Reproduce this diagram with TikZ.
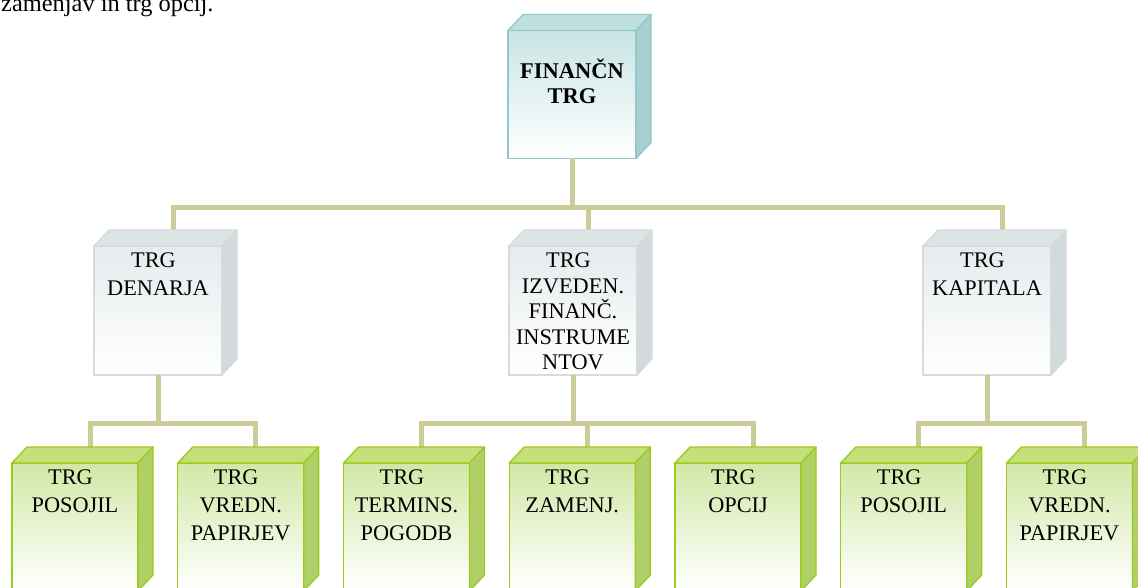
\documentclass[tikz,border=0pt]{standalone}
\usepackage{fontspec}
\setmainfont{Liberation Serif}
\usetikzlibrary{positioning}

\definecolor{vezbarva}{HTML}{CCCC99}
\definecolor{modrarob}{HTML}{8FC9C9}
\definecolor{modrasp}{HTML}{C9E4E4}
\definecolor{modravrh}{HTML}{C0DFDF}
\definecolor{modrastr}{HTML}{A8CECE}
\definecolor{sivarob}{HTML}{D3DCDE}
\definecolor{sivasp}{HTML}{E6EBED}
\definecolor{sivavrh}{HTML}{DDE4E6}
\definecolor{sivastr}{HTML}{D3DADC}
\definecolor{zelrob}{HTML}{9BCB1E}
\definecolor{zelsp}{HTML}{D2E8A6}
\definecolor{zelvrh}{HTML}{C5E07A}
\definecolor{zelstr}{HTML}{B0CF66}

\begin{document}
\begin{tikzpicture}[x=1pt,y=-1pt,
  vez/.style={draw=vezbarva,line width=5pt},
  kocka/.style={rectangle,line width=1.3pt,outer sep=0pt,inner sep=0pt,minimum width=128pt,minimum height=128pt,bottom color=white},
  modra/.style={kocka,draw=modrarob,top color=modrasp},
  siva/.style={kocka,draw=sivarob,top color=sivasp,minimum height=129pt},
  zel/.style={kocka,draw=zelrob,top color=zelsp,minimum width=126pt},
  napis/.style={align=center,inner sep=0pt,font=\fontsize{22.3}{28}\selectfont}]
\useasboundingbox (0,0) rectangle (1138,588);
\clip (0,0) rectangle (1138,588);

\node[anchor=base west,inner sep=0pt,font=\fontsize{24.4}{29}\selectfont] (uvod) at (1,12) {zamenjav in trg opcij.};

% sprednje ploskve
\node[modra] (fin) at (572,94.5) {};
\node[siva] (den) at (158,310.5) {};
\node[siva] (izv) at (573,310.5) {};
\node[siva] (kap) at (987,310.5) {};
\node[zel] (pos1) at (75,527) {};
\node[zel] (vre1) at (240.75,527) {};
\node[zel] (ter) at (406.5,527) {};
\node[zel] (zam) at (572.25,527) {};
\node[zel] (opc) at (738,527) {};
\node[zel] (pos2) at (903.75,527) {};
\node[zel] (vre2) at (1069.5,527) {};

% povezave
\coordinate (r1) at ([yshift=-49pt]fin.south);
\coordinate (r2) at ([yshift=-48pt]den.south);
\coordinate (r3) at ([yshift=-48pt]izv.south);
\coordinate (r4) at ([yshift=-48pt]kap.south);
\draw[vez] (fin.south) -- (r1);
\draw[vez] ([shift={(15,-16)}]den.north) |- (r1) -| ([shift={(15,-16)}]kap.north);
\draw[vez] ([shift={(15,-16)}]izv.north) |- (r1);
\draw[vez] (den.south) -- (r2);
\draw[vez] ([shift={(15,-16)}]pos1.north) |- (r2) -| ([shift={(15,-16)}]vre1.north);
\draw[vez] (izv.south) -- (r3);
\draw[vez] ([shift={(15,-16)}]ter.north) |- (r3) -| ([shift={(15,-16)}]opc.north);
\draw[vez] ([shift={(15,-16)}]zam.north) |- (r3);
\draw[vez] (kap.south) -- (r4);
\draw[vez] ([shift={(15,-16)}]pos2.north) |- (r4) -| ([shift={(15,-16)}]vre2.north);

% zgornje in stranske ploskve
\foreach \n/\barva in {fin/modra,den/siva,izv/siva,kap/siva,pos1/zel,vre1/zel,ter/zel,zam/zel,opc/zel,pos2/zel,vre2/zel}{
  \filldraw[draw=\barva rob,fill=\barva vrh,line width=1.3pt,line join=round] (\n.north west) -- ([shift={(15,-16)}]\n.north west) -- ([shift={(15,-16)}]\n.north east) -- (\n.north east) -- cycle;
  \filldraw[draw=\barva rob,fill=\barva str,line width=1.3pt,line join=round] (\n.north east) -- ([shift={(15,-16)}]\n.north east) -- ([shift={(15,-16)}]\n.south east) -- (\n.south east) -- cycle;
}

% napisi
\node[napis,font=\bfseries\fontsize{22.5}{25}\selectfont,below=28pt of fin.north] (finT) {FINANČN\\TRG};
\node[napis,below=7pt of den.north] (denT) {TRG\hspace*{9pt}\\DENARJA};
\node[napis,below=7pt of izv.north,font=\fontsize{22.3}{25.5}\selectfont] (izvT) {TRG\hspace*{9pt}\\IZVEDEN.\\FINANČ.\\INSTRUME\\NTOV};
\node[napis,below=7pt of kap.north] (kapT) {TRG\hspace*{9pt}\\KAPITALA};
\node[napis,below=7pt of pos1.north] (pos1T) {TRG\hspace*{9pt}\\POSOJIL};
\node[napis,below=7pt of vre1.north] (vre1T) {TRG\hspace*{9pt}\\VREDN.\\PAPIRJEV};
\node[napis,below=7pt of ter.north] (terT) {TRG\hspace*{9pt}\\TERMINS.\\POGODB};
\node[napis,below=7pt of zam.north] (zamT) {TRG\hspace*{9pt}\\ZAMENJ.};
\node[napis,below=7pt of opc.north] (opcT) {TRG\hspace*{9pt}\\OPCIJ};
\node[napis,below=7pt of pos2.north] (pos2T) {TRG\hspace*{9pt}\\POSOJIL};
\node[napis,below=7pt of vre2.north] (vre2T) {TRG\hspace*{9pt}\\VREDN.\\PAPIRJEV};
\end{tikzpicture}
\end{document}
